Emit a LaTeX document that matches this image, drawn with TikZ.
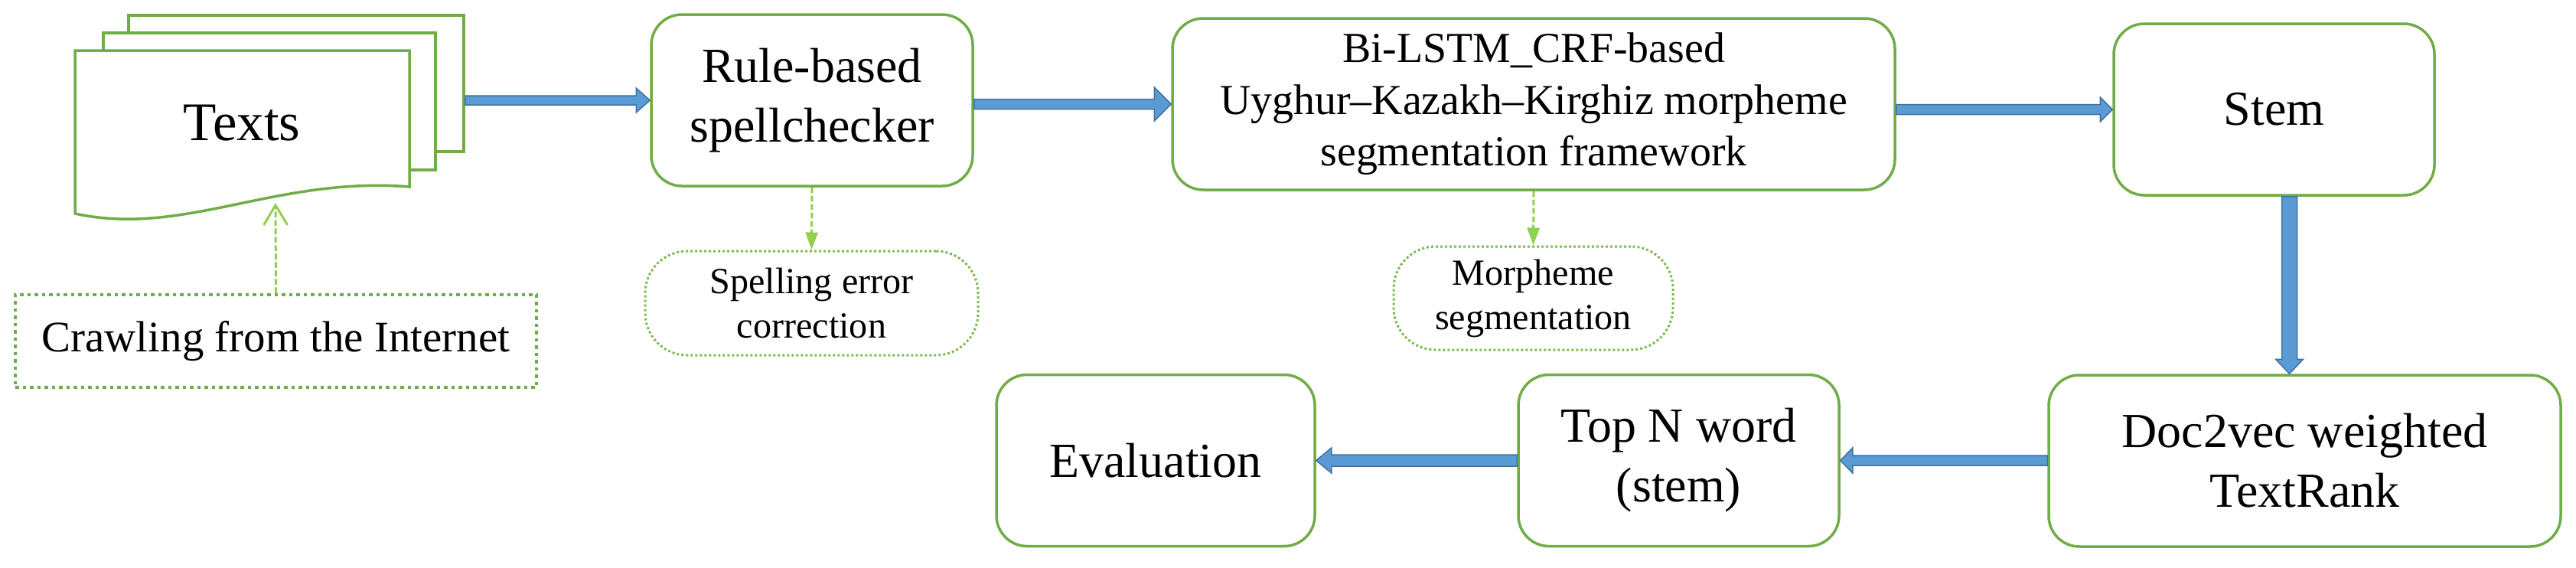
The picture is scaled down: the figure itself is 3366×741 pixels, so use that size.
\documentclass[tikz,border=0pt]{standalone}
\usepackage{fontspec}
\setmainfont{Liberation Serif}
\usetikzlibrary{arrows.meta,calc}
\definecolor{boxgreen}{HTML}{70AD47}
\definecolor{lightgreen}{HTML}{92D050}
\definecolor{dotgreen}{HTML}{7DBB50}
\definecolor{blueF}{HTML}{5B9BD5}
\definecolor{blueD}{HTML}{41719C}
\newcommand{\fmain}{\fontsize{18.2pt}{22.2pt}\selectfont}
\newcommand{\ftexts}{\fontsize{20.2pt}{24pt}\selectfont}
\newcommand{\fcrawl}{\fontsize{16.2pt}{19.5pt}\selectfont}
\newcommand{\fbi}{\fontsize{15.9pt}{19.2pt}\selectfont}
\newcommand{\fsmall}{\fontsize{13.7pt}{16.5pt}\selectfont}
% horizontal block arrow: from x of #1 to point #2, at y of #2
\newcommand{\hblk}[5]{%
  \filldraw[blk] let \p1=(#1), \p2=(#2), \n1={ifthenelse(\x2>\x1,1,-1)} in
    (\x1,{\y2+#3}) -- ({\x2-(\n1)*#5},{\y2+#3}) -- ({\x2-(\n1)*#5},{\y2+#4}) -- (\x2,\y2)
    -- ({\x2-(\n1)*#5},{\y2-#4}) -- ({\x2-(\n1)*#5},{\y2-#3}) -- (\x1,{\y2-#3}) -- cycle;}
% vertical block arrow: from y of #1 to point #2, at x of #2
\newcommand{\vblk}[5]{%
  \filldraw[blk] let \p1=(#1), \p2=(#2), \n1={ifthenelse(\y2>\y1,1,-1)} in
    ({\x2+#3},\y1) -- ({\x2+#3},{\y2-(\n1)*#5}) -- ({\x2+#4},{\y2-(\n1)*#5}) -- (\x2,\y2)
    -- ({\x2-#4},{\y2-(\n1)*#5}) -- ({\x2-#3},{\y2-(\n1)*#5}) -- ({\x2-#3},\y1) -- cycle;}
\tikzset{
  procbox/.style={draw=boxgreen, line width=0.35mm, rounded corners=4mm, fill=white,
    align=center, font=\fmain, inner sep=0pt, minimum height=22.4mm},
  pagebox/.style={draw=boxgreen, line width=0.35mm, fill=white, inner sep=0pt},
  smallbox/.style={draw=dotgreen, line width=0.3mm, dash pattern=on 0.3mm off 0.3mm,
    rounded corners=5.5mm, align=center, font=\fsmall, inner sep=0pt},
  crawlbox/.style={draw=boxgreen, line width=0.45mm, dash pattern=on 0.45mm off 0.5mm,
    align=center, font=\fcrawl, inner sep=0pt},
  blk/.style={fill=blueF, draw=blueD, line width=0.15mm, line join=miter},
  dasharr/.style={draw=lightgreen, line width=0.3mm, dash pattern=on 0.75mm off 0.35mm}
}
\begin{document}
\begin{tikzpicture}[x=0.1mm, y=-0.1mm]
\useasboundingbox (0,0) rectangle (3366,741);
\fill[white] (0,0) rectangle (3366,741);

% Texts document stack
\node[pagebox, minimum width=43.8mm, minimum height=17.8mm] (back) at (387,109) {};
\node[pagebox, minimum width=43.4mm, minimum height=17.9mm] (mid) at (352,132.5) {};
\filldraw[pagebox, line join=miter] (98,66) -- (535,66) -- (535,244)
  .. controls (360,230) and (240,310) .. (98,279) -- cycle;
\node[font=\ftexts, inner sep=0pt] (texts) at (316,161) {Texts};
\coordinate (wave) at (360,265);

% boxes
\node[crawlbox, minimum width=68.1mm, minimum height=12.1mm] (crawl) at (360.5,445.5) {Crawling from the Internet};
\node[procbox, minimum width=42mm] (rule) at (1061,131) {Rule-based\\spellchecker};
\node[smallbox, minimum width=43.5mm, minimum height=13.6mm] (spell) at (1060.5,396) {Spelling error\\correction};
\node[procbox, font=\fbi, minimum width=94.4mm] (bi) at (2004,136) {Bi-LSTM\_CRF-based\\Uyghur–Kazakh–Kirghiz morpheme\\segmentation framework};
\node[smallbox, minimum width=36.5mm, minimum height=13.5mm] (morph) at (2003.5,389.5) {Morpheme\\segmentation};
\node[procbox, minimum width=41.9mm] (stem) at (2971.5,143) {Stem};
\node[procbox, minimum width=66.9mm] (doc) at (3011.5,602) {Doc2vec weighted\\TextRank};
\node[procbox, minimum width=41.9mm] (topn) at (2193.5,601.5) {Top N word\\(stem)};
\node[procbox, minimum width=41.6mm] (eval) at (1510,601.5) {Evaluation};

% block arrows
\hblk{back.east}{rule.west}{0.6mm}{1.6mm}{1.8mm}
\hblk{rule.east}{bi.west}{0.65mm}{2.2mm}{2.2mm}
\hblk{bi.east}{stem.west}{0.65mm}{1.6mm}{1.6mm}
\coordinate (sd) at ($(stem.south)!0.5!(doc.north)$);
\vblk{sd |- stem.south}{sd |- doc.north}{1mm}{1.8mm}{1.9mm}
\hblk{doc.west}{topn.east}{0.65mm}{1.65mm}{1.6mm}
\hblk{topn.west}{eval.east}{0.75mm}{1.65mm}{2mm}

% dashed arrows
\draw[dasharr, -{Triangle[length=2.3mm,width=1.6mm]}] (rule.south) -- (spell.north);
\draw[dasharr, -{Triangle[length=2.3mm,width=1.6mm]}] (bi.south) -- (morph.north);
\draw[dasharr, -{Straight Barb[length=2.6mm,width=3.1mm]}] (crawl.north) -- (wave);
\end{tikzpicture}
\end{document}
